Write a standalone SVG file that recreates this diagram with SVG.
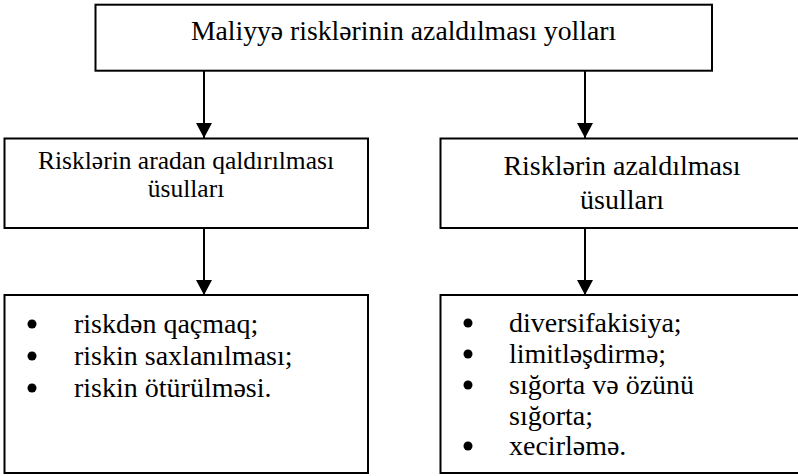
<svg xmlns="http://www.w3.org/2000/svg" width="798" height="476" viewBox="0 0 798 476">
  <style>
    .box { fill: #ffffff; stroke: #000000; stroke-width: 2; }
    .link { stroke: #000000; stroke-width: 2; fill: none; }
    text { font-family: "Liberation Serif", "DejaVu Serif", serif; fill: #000000; }
    .c { text-anchor: middle; }
    .dot { fill: #000000; }
  </style>
  <defs>
    <marker id="arrow" markerUnits="userSpaceOnUse" markerWidth="16" markerHeight="16" refX="15" refY="8" orient="auto">
      <path d="M0,0 L15,8 L0,16 Z" fill="#000000"/>
    </marker>
  </defs>
  <rect width="798" height="476" fill="#ffffff"/>

  <g id="connectors">
    <line class="link" x1="204" y1="71" x2="204" y2="138" marker-end="url(#arrow)"/>
    <line class="link" x1="585" y1="71" x2="585" y2="138" marker-end="url(#arrow)"/>
    <line class="link" x1="204" y1="228" x2="204" y2="295" marker-end="url(#arrow)"/>
    <line class="link" x1="585" y1="228" x2="585" y2="295" marker-end="url(#arrow)"/>
  </g>

  <g id="root">
    <rect class="box" x="95.5" y="4.7" width="616.5" height="66"/>
    <text class="c" x="403.5" y="40" font-size="27.7">Maliyyə risklərinin azaldılması yolları</text>
  </g>

  <g id="elimination">
    <rect class="box" x="4.5" y="138.5" width="363.5" height="89.5"/>
    <text class="c" x="186" y="169" font-size="25.5">Risklərin aradan qaldırılması</text>
    <text class="c" x="186" y="197" font-size="25.5">üsulları</text>
  </g>

  <g id="reduction">
    <rect class="box" x="440.5" y="138.5" width="360" height="89.5"/>
    <text class="c" x="622" y="175" font-size="28">Risklərin azaldılması</text>
    <text class="c" x="622" y="209" font-size="28">üsulları</text>
  </g>

  <g id="elimination-list" font-family="Liberation Serif, DejaVu Serif, serif" font-size="28">
    <rect class="box" x="4.5" y="295" width="363.5" height="178"/>
    <circle class="dot" cx="32" cy="324" r="4.5"/>
    <circle class="dot" cx="32" cy="356" r="4.5"/>
    <circle class="dot" cx="32" cy="388" r="4.5"/>
    <text x="74" y="333">riskdən qaçmaq;</text>
    <text x="74" y="365">riskin saxlanılması;</text>
    <text x="74" y="397">riskin ötürülməsi.</text>
  </g>

  <g id="reduction-list" font-family="Liberation Serif, DejaVu Serif, serif" font-size="28">
    <rect class="box" x="440.5" y="295" width="360" height="178"/>
    <circle class="dot" cx="468" cy="323" r="4.5"/>
    <circle class="dot" cx="468" cy="354" r="4.5"/>
    <circle class="dot" cx="468" cy="385" r="4.5"/>
    <circle class="dot" cx="468" cy="446" r="4.5"/>
    <text x="509" y="332">diversifakisiya;</text>
    <text x="509" y="363">limitləşdirmə;</text>
    <text x="509" y="394">sığorta və özünü</text>
    <text x="509" y="425">sığorta;</text>
    <text x="509" y="455">xecirləmə.</text>
  </g>
</svg>
